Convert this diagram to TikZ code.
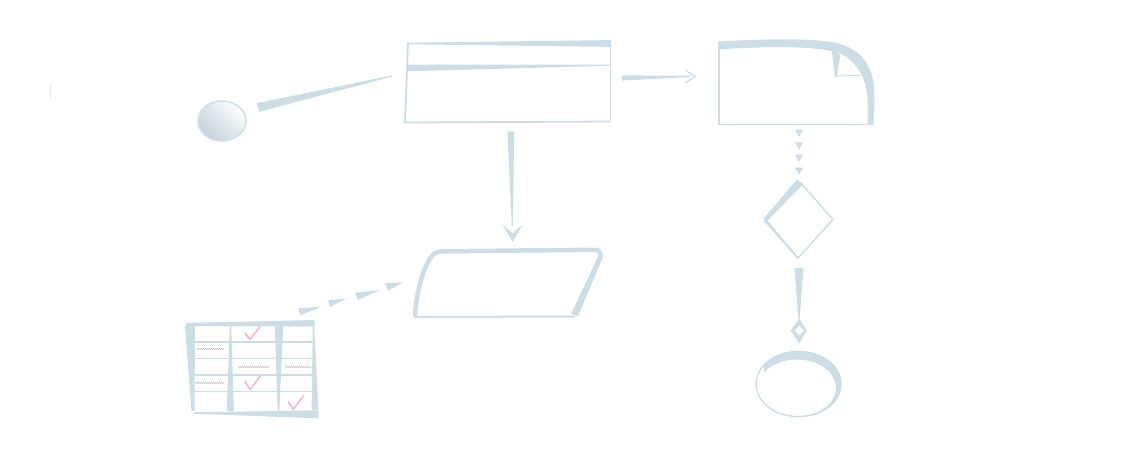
\documentclass[tikz,border=0pt]{standalone}
\usetikzlibrary{calc,decorations.pathmorphing}
\definecolor{bl}{RGB}{205,221,230}
\definecolor{blc}{RGB}{210,223,230}
\definecolor{pk}{RGB}{238,190,215}
\definecolor{scr}{RGB}{175,182,190}
% tapered band from #1 to #2, half widths #3 and #4 (pt)
\newcommand{\tpr}[4]{\fill[bl] ($(#1)!#3pt!90:(#2)$) -- ($(#1)!#3pt!-90:(#2)$) -- ($(#2)!#4pt!90:(#1)$) -- ($(#2)!#4pt!-90:(#1)$) -- cycle;}
\begin{document}
\begin{tikzpicture}[x=1pt,y=-1pt,
  thinedge/.style={bl, line width=#1},
  check/.style={pk, line width=1.8pt, line cap=round, line join=round},
  scribble/.style={scr, line width=0.4pt, decorate, decoration={snake, segment length=2pt, amplitude=0.6pt}}]
\useasboundingbox (0,0) rectangle (1124,451);
% faint mark
\draw[black!8, line width=0.8pt] (50,84) -- (50,99);

% start circle
\coordinate (st) at (222,121);
\shade[top color=white!95!bl, bottom color=bl!95!black!100, shading angle=-45] (st) ellipse [x radius=24pt, y radius=20pt];
\draw[blc, line width=1.6pt] (st) ellipse [x radius=24pt, y radius=20pt];

% connector circle -> box
\coordinate (c1a) at (258,107.5);
\coordinate (c1b) at (392,76);
\tpr{c1a}{c1b}{4.5}{0.6}

% top box
\tpr{407,43.5}{611,43.5}{0.8}{3.4}
\tpr{407,68}{611,65.2}{3.3}{0.5}
\draw[thinedge=1.8pt] (408,43) -- (405,122.5) -- (610.5,121.5);
\draw[thinedge=1.1pt] (610.5,43) -- (610.5,122);

% arrow box -> document
\coordinate (a2a) at (622,78);
\coordinate (a2b) at (690,76.3);
\tpr{a2a}{a2b}{2.6}{0.6}
\draw[thinedge=1.3pt] (685,70) -- (695.5,76.5) -- (685,83);

% document
\fill[bl] (718,41.5) .. controls (770,38.5) and (810,38.5) .. (832,42) .. controls (862,47) and (875,68) .. (874.5,97) -- (873.5,125) -- (867.5,125) -- (867.5,100) .. controls (867,76) and (854,59) .. (838,52.5) .. controls (815,46) and (770,46) .. (718,49.5) -- cycle;
\fill[bl] (831.5,48) -- (840.5,55) -- (836.8,76.5) -- (834.8,76.5) -- cycle;
\draw[thinedge=1pt] (835,76.2) -- (860,75.2);
\draw[thinedge=1.5pt] (719,46) -- (719,124.5) -- (871,124.5);

% dotted connector
\foreach \yy in {129.5,142.3,154.6,167.5}
  \fill[bl] (794.8,\yy) -- (803.2,\yy) -- (799,\yy+7.3) -- cycle;

% diamond
\coordinate (dT) at (800,182);
\coordinate (dL) at (765,220);
\coordinate (dR) at (833,219.5);
\coordinate (dB) at (798,258);
\tpr{dT}{dL}{4}{2}
\tpr{dL}{dB}{1.5}{0.8}
\draw[thinedge=1.4pt, line join=miter] (dT) -- (dR) -- (dB) -- (dL);

% arrow diamond -> end
\coordinate (a4a) at (799,268);
\coordinate (a4b) at (799,319);
\tpr{a4a}{a4b}{4.5}{0.6}
\fill[bl] (799.3,318.5) -- (806.7,330.7) -- (799.3,343.5) -- (790.7,330.7) -- cycle;
\fill[white] (799.3,325.7) -- (804,330.7) -- (799.3,335.3) -- (795,330.7) -- cycle;

% end ellipse
\coordinate (en) at (798.5,384);
\draw[thinedge=1.3pt] (en) ellipse [x radius=42.5pt, y radius=32.5pt];
\begin{scope}
\clip (764,340) rectangle (850,420);
\fill[bl, even odd rule] (798.5,384) ellipse [x radius=43.2pt, y radius=33.2pt] (797,388) ellipse [x radius=39pt, y radius=28.5pt];
\end{scope}

% arrow box -> parallelogram
\coordinate (a3a) at (510.8,131.5);
\coordinate (a3b) at (512.3,226);
\tpr{a3a}{a3b}{3.4}{0.5}
\fill[bl] (512.7,242) -- (502.5,224.5) -- (512.7,233.5) -- (522.5,224.5) -- cycle;

% parallelogram
\draw[bl, line width=4.5pt, line join=round] (415,316.5) .. controls (416,292) and (424,265) .. (432,256) .. controls (435,252) and (439,251.3) .. (446,251.2) -- (594,249.8) .. controls (600,249.8) and (601.5,252) .. (600,259);
\tpr{600,258}{574.5,315}{2.4}{3.6}
\draw[thinedge=2pt] (414,317) -- (575,316.5);

% dashed wedge connector
\fill[bl] (385,283.3) -- (387.7,290.7) -- (403.5,282.5) -- cycle;
\fill[bl] (355,292.7) -- (357.7,300) -- (380,290) -- cycle;
\fill[bl] (328.3,300.3) -- (330,307) -- (346.7,298.3) -- cycle;
\fill[bl] (298.3,308.3) -- (300,315.3) -- (321.7,306.7) -- cycle;

% table
\tpr{186,324.5}{314.5,323.3}{1.6}{3.3}
\tpr{190,326}{193,411}{5}{1.5}
\tpr{230.5,326}{230.3,411}{0.7}{3.6}
\tpr{279,326}{278.5,411}{4.2}{0.8}
\tpr{313.5,325}{315,410}{0.7}{3.4}
\tpr{193,413}{318.5,414.3}{0.7}{4}
\foreach \yy in {342,358.5,375,391.5}
  \draw[thinedge=1.3pt] (194,\yy) -- (313,\yy);
\draw[check] (245,333.3) -- (250,339.3) -- (260,326.7);
\draw[check] (245,381.7) -- (250,389.3) -- (260,376.7);
\draw[check] (288.3,401.7) -- (293.3,409.3) -- (303.3,396);
\draw[scribble] (197,349) -- (225,349);
\draw[scribble] (238,367) -- (270,367);
\draw[scribble] (285,367) -- (312,367);
\draw[scribble] (195,383) -- (225,383);
\end{tikzpicture}
\end{document}
